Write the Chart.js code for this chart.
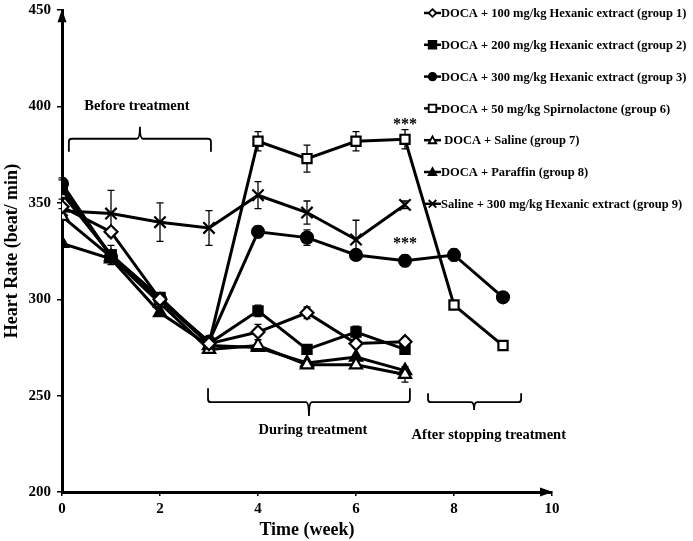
<!DOCTYPE html>
<html lang="en">
<head>
<meta charset="UTF-8">
<title>Heart Rate vs Time</title>
<script src="https://cdn.jsdelivr.net/npm/chart.js@4.4.1/dist/chart.umd.min.js"></script>
<style>
  html, body { margin: 0; padding: 0; background: #fff; }
  #wrap { width: 693px; height: 541px; position: relative; }
</style>
</head>
<body>
<div id="wrap"><canvas id="hrChart"></canvas></div>
<script>
// weeks on the x axis
const weeks = [0, 1, 2, 3, 4, 5, 6, 7, 8, 9];

// heart rate (beat/min), one array per group
const group1 = [348, 335, 300, 277, 283, 293, 277, 278];
const group2 = [357, 323, 301, 277, 294, 274, 283, 274];
const group3 = [360, 322, 300, 278, 335, 332, 323, 320, 323, 301];
const group6 = [355, 323, 300, 277, 382, 373, 382, 383, 297, 276];
const group7 = [343, 322, 298, 274, 276, 266, 266, 261];
const group8 = [329, 321, 293, 276, 275, 267, 270, 263];
const group9 = [346, 344.5, 340, 337, 354, 345, 331, 349];

// error bars (+/-)
const err1 = [0, 0, 0, 0, 4, 3, 0, 2];
const err2 = [5, 5, 0, 0, 3, 0, 3, 0];
const err3 = [0, 0, 0, 0, 3, 4, 2, 3, 3, 0];
const err6 = [8, 0, 0, 0, 5, 7, 5, 5, 0, 0];
const err7 = [0, 0, 0, 0, 0, 0, 0, 4];
const err8 = [0, 0, 0, 3, 0, 0, 0, 0];
const err9 = [0, 12, 10, 9, 7, 6, 10, 2];

const groupLabels = [
  "DOCA + 100 mg/kg Hexanic extract (group 1)",
  "DOCA + 200 mg/kg Hexanic extract (group 2)",
  "DOCA + 300 mg/kg Hexanic extract (group 3)",
  "DOCA + 50 mg/kg Spirnolactone (group 6)",
  " DOCA + Saline (group 7)",
  "DOCA + Paraffin (group 8)",
  "Saline + 300 mg/kg Hexanic extract (group 9)"
];

const yTicks = [200, 250, 300, 350, 400, 450];
const xTicks = [0, 2, 4, 6, 8, 10];

const FONT = '"Liberation Serif", "Times New Roman", serif';

function toPoints(vals) {
  return vals.map((v, i) => ({ x: weeks[i], y: v }));
}

function series(label, vals, errs, style, filled, radius) {
  return {
    label: label,
    data: toPoints(vals),
    errors: errs,
    borderColor: "#000",
    borderWidth: 3,
    pointStyle: style,
    pointRadius: radius,
    pointBorderWidth: 2.2,
    pointBorderColor: "#000",
    pointBackgroundColor: filled ? "#000" : "#fff",
    tension: 0,
    fill: false
  };
}

const datasets = [
  series(groupLabels[0], group1, err1, "rectRot", false, 6.5),
  series(groupLabels[1], group2, err2, "rect", true, 6.5),
  series(groupLabels[2], group3, err3, "circle", true, 6),
  series(groupLabels[3], group6, err6, "rect", false, 6.5),
  series(groupLabels[4], group7, err7, "triangle", false, 7),
  series(groupLabels[5], group8, err8, "triangle", true, 7),
  series(groupLabels[6], group9, err9, "crossRot", false, 8)
];

// vertical error bars with caps
const errorBars = {
  id: "errorBars",
  beforeDatasetsDraw(chart) {
    const ctx = chart.ctx;
    const ys = chart.scales.y;
    ctx.save();
    ctx.strokeStyle = "#000";
    ctx.lineWidth = 1.3;
    chart.data.datasets.forEach((ds, di) => {
      const meta = chart.getDatasetMeta(di);
      ds.errors.forEach((e, i) => {
        if (!e || !meta.data[i]) return;
        const p = meta.data[i];
        const v = ds.data[i].y;
        const top = ys.getPixelForValue(v + e);
        const bot = ys.getPixelForValue(v - e);
        ctx.beginPath();
        ctx.moveTo(p.x, top); ctx.lineTo(p.x, bot);
        ctx.moveTo(p.x - 3.5, top); ctx.lineTo(p.x + 3.5, top);
        ctx.moveTo(p.x - 3.5, bot); ctx.lineTo(p.x + 3.5, bot);
        ctx.stroke();
      });
    });
    ctx.restore();
  }
};

function marker(ctx, style, filled, x, y, r) {
  ctx.beginPath();
  if (style === "rect") {
    ctx.rect(x - r, y - r, 2 * r, 2 * r);
  } else if (style === "rectRot") {
    ctx.moveTo(x, y - r); ctx.lineTo(x + r, y); ctx.lineTo(x, y + r); ctx.lineTo(x - r, y); ctx.closePath();
  } else if (style === "circle") {
    ctx.arc(x, y, r, 0, Math.PI * 2);
  } else if (style === "triangle") {
    ctx.moveTo(x, y - r); ctx.lineTo(x + r, y + r * 0.8); ctx.lineTo(x - r, y + r * 0.8); ctx.closePath();
  } else if (style === "crossRot") {
    ctx.moveTo(x - r, y - r); ctx.lineTo(x + r, y + r);
    ctx.moveTo(x + r, y - r); ctx.lineTo(x - r, y + r);
    ctx.stroke();
    return;
  }
  ctx.fillStyle = filled ? "#000" : "#fff";
  ctx.fill();
  ctx.stroke();
}

// legend, axis arrows, brackets and asterisks
const decorations = {
  id: "decorations",
  afterDraw(chart) {
    const ctx = chart.ctx;
    const xs = chart.scales.x, ys = chart.scales.y;
    const area = chart.chartArea;
    const px = v => xs.getPixelForValue(v);
    const py = v => ys.getPixelForValue(v);
    ctx.save();
    ctx.fillStyle = "#000";
    ctx.strokeStyle = "#000";

    // arrow heads
    ctx.beginPath();
    ctx.moveTo(area.left, area.top - 1);
    ctx.lineTo(area.left + 4.5, area.top + 12);
    ctx.lineTo(area.left - 4.5, area.top + 12);
    ctx.closePath(); ctx.fill();
    ctx.beginPath();
    ctx.moveTo(area.right + 1, area.bottom);
    ctx.lineTo(area.right - 12, area.bottom - 4.5);
    ctx.lineTo(area.right - 12, area.bottom + 4.5);
    ctx.closePath(); ctx.fill();

    // brackets
    ctx.lineWidth = 1.8;
    function bracket(x1, x2, xm, yLine, yEnd, yTip) {
      const a = px(x1), b = px(x2), m = px(xm);
      const l = py(yLine), e = py(yEnd), t = py(yTip);
      const d = e > l ? 3 : -3;
      ctx.beginPath();
      ctx.moveTo(a, e);
      ctx.lineTo(a, l + d);
      ctx.quadraticCurveTo(a, l, a + 3, l);
      ctx.lineTo(m - 3, l);
      ctx.quadraticCurveTo(m, l, m, t);
      ctx.quadraticCurveTo(m, l, m + 3, l);
      ctx.lineTo(b - 3, l);
      ctx.quadraticCurveTo(b, l, b, l + d);
      ctx.lineTo(b, e);
      ctx.stroke();
    }
    bracket(0.14, 3.04, 1.59, 383.3, 376.6, 389.5);
    bracket(2.98, 7.1, 5.04, 246.6, 253.8, 239.4);
    bracket(7.47, 9.37, 8.41, 246.6, 251.2, 242.5);

    ctx.textAlign = "center";
    ctx.textBaseline = "middle";
    ctx.font = "bold 14.5px " + FONT;
    ctx.fillText("Before treatment", px(1.53), py(400));
    ctx.fillText("During treatment", px(5.12), py(232.3));
    ctx.fillText("After stopping treatment", px(8.71), py(229.2));

    ctx.font = "bold 16px " + FONT;
    ctx.fillText("***", px(7.0), py(390.5));
    ctx.fillText("***", px(7.0), py(328.5));

    // legend
    ctx.textAlign = "left";
    ctx.font = "bold 12.5px " + FONT;
    chart.data.datasets.forEach((ds, i) => {
      const y = 13 + i * 31.8;
      ctx.lineWidth = 2.5;
      ctx.beginPath();
      ctx.moveTo(424, y); ctx.lineTo(441, y);
      ctx.stroke();
      ctx.lineWidth = 1.8;
      marker(ctx, ds.pointStyle, ds.pointBackgroundColor === "#000", 432.5, y, 3.8);
      ctx.fillStyle = "#000";
      ctx.fillText(ds.label, 441, y + 1);
    });
    ctx.restore();
  }
};

new Chart("hrChart", {
  type: "line",
  data: { datasets: datasets },
  plugins: [errorBars, decorations],
  options: {
    responsive: true,
    maintainAspectRatio: false,
    animation: false,
    devicePixelRatio: 1,
    layout: { padding: { top: 4, right: 141, left: 0, bottom: 0 } },
    plugins: { legend: { display: false }, tooltip: { enabled: false } },
    scales: {
      x: {
        type: "linear",
        min: 0, max: 10,
        afterBuildTicks: s => { s.ticks = xTicks.map(v => ({ value: v })); },
        afterFit: s => { s.height = 49; s.paddingLeft = 0; s.paddingRight = 0; },
        ticks: { color: "#000", padding: 4, font: { family: FONT, size: 15, weight: "bold" } },
        grid: { display: true, drawOnChartArea: false, drawTicks: true, tickLength: 4, color: "#000", lineWidth: 1.5 },
        border: { display: true, color: "#000", width: 3 },
        title: { display: true, text: "Time (week)", color: "#000", padding: { top: 0, bottom: 0 }, font: { family: FONT, size: 18, weight: "bold" } }
      },
      y: {
        type: "linear",
        min: 200, max: 450,
        afterBuildTicks: s => { s.ticks = yTicks.map(v => ({ value: v })); },
        afterFit: s => { s.width = 62; s.paddingTop = 0; s.paddingBottom = 0; },
        ticks: { color: "#000", padding: 6, font: { family: FONT, size: 15, weight: "bold" } },
        grid: { display: true, drawOnChartArea: false, drawTicks: true, tickLength: 5, color: "#000", lineWidth: 1.5 },
        border: { display: true, color: "#000", width: 3 },
        title: { display: true, text: "Heart Rate (beat/ min)", color: "#000", padding: { top: 2, bottom: 0 }, font: { family: FONT, size: 18, weight: "bold" } }
      }
    }
  }
});
</script>
</body>
</html>
